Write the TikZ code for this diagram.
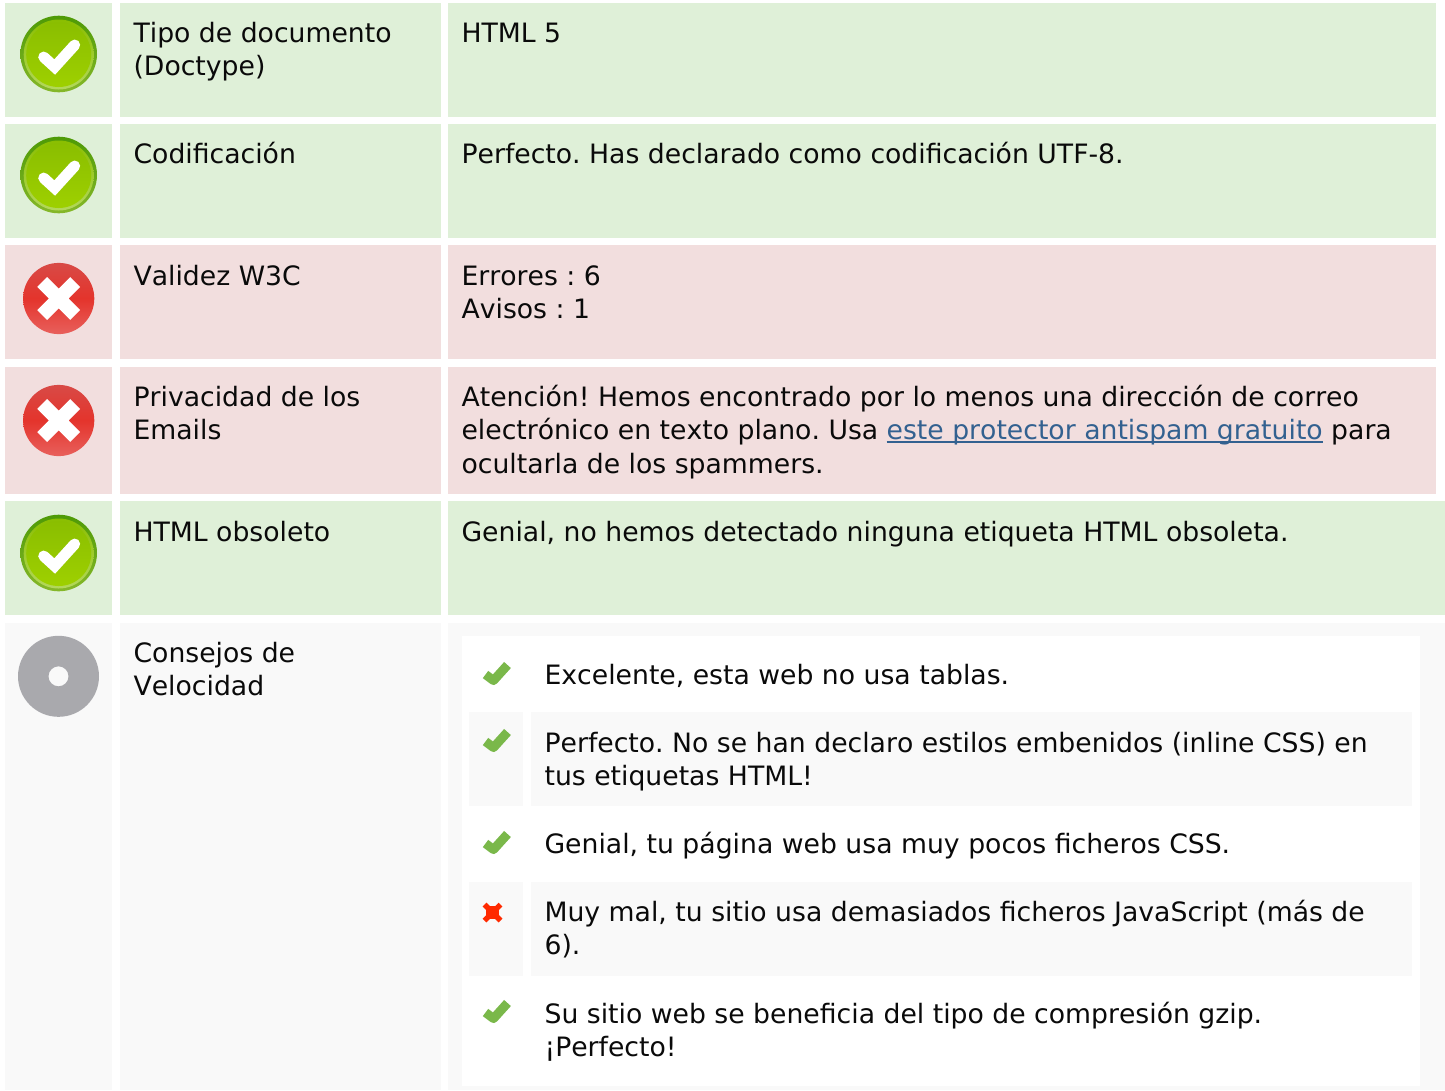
\documentclass[tikz,border=0pt]{standalone}
\usepackage{fontspec}
\setmainfont[Kerning=Off]{DejaVu Sans}
\definecolor{okbg}{HTML}{DFF0D8}
\definecolor{badbg}{HTML}{F2DEDE}
\definecolor{panelbg}{HTML}{F9F9F9}
\definecolor{linkblue}{HTML}{336190}
\definecolor{ink}{HTML}{0A0A0A}
\definecolor{smallgreen}{HTML}{7AB84A}
\definecolor{smallred}{HTML}{FF2A00}
\definecolor{rimtop}{HTML}{4E9A06}
\definecolor{rimbot}{HTML}{86B82A}
\definecolor{oktop}{HTML}{8ABE00}
\definecolor{okbot}{HTML}{9ED000}
\definecolor{ringbot}{HTML}{B4D85C}
\definecolor{redtop}{HTML}{D84A46}
\definecolor{redbot}{HTML}{E8605C}
\definecolor{redmid}{HTML}{E4342C}
\definecolor{discgray}{HTML}{A9A9AD}
\tikzset{
  label/.style={anchor=north west,inner sep=0pt,align=left,text=ink,
    font=\fontsize{20}{25.15}\selectfont},
}
\newlength{\linkw}
\newcommand{\linktext}[1]{\settowidth{\linkw}{#1}{\color{linkblue}\rlap{\rule[-2.2pt]{\linkw}{1.3pt}}#1}}
\newcommand{\cellbox}[5]{\fill[#5] (#1,#2) rectangle (#3,#4);}
\newcommand{\txt}[4]{\node[label] (#1) at (#2-0.7,#3-23.4) {\strut #4};}
\newcommand{\okicon}[1]{%
  \begin{scope}[shift={(58.7,#1)}]
    \shade[top color=rimtop,bottom color=rimbot] (0,0) circle (38.3);
    \shade[top color=oktop,bottom color=ringbot] (0,0.5) circle (35);
    \shade[top color=oktop,bottom color=okbot] (0,0.5) circle (32.5);
    \draw[white,line width=8.2,line cap=round,line join=miter] (-15,3) -- (-4,13) -- (16,-9);
  \end{scope}}
\newcommand{\badicon}[1]{%
  \begin{scope}[shift={(58.7,#1)}]
    \shade[top color=redtop,bottom color=redbot,middle color=redmid] (0,0) circle (35.6);
    \draw[white,line width=10.5,line cap=butt] (-16.5,-16.5) -- (16.5,16.5) (-16.5,16.5) -- (16.5,-16.5);
  \end{scope}}
\newcommand{\minicheck}[1]{\draw[smallgreen,line width=6.8,line join=round] (485.5,#1+0.5) -- (493.5,#1+6.5) -- (507.5,#1-9);}
\begin{document}
\frenchspacing
\begin{tikzpicture}[x=0.75pt,y=-0.75pt]
\useasboundingbox (0,0) rectangle (1445,1090);
% rows
\cellbox{5}{3}{112}{117}{okbg}\cellbox{120}{3}{441}{117}{okbg}\cellbox{448}{3}{1436}{117}{okbg}
\cellbox{5}{124}{112}{238}{okbg}\cellbox{120}{124}{441}{238}{okbg}\cellbox{448}{124}{1436}{238}{okbg}
\cellbox{5}{245}{112}{359}{badbg}\cellbox{120}{245}{441}{359}{badbg}\cellbox{448}{245}{1436}{359}{badbg}
\cellbox{5}{367}{112}{494}{badbg}\cellbox{120}{367}{441}{494}{badbg}\cellbox{448}{367}{1436}{494}{badbg}
\cellbox{5}{501}{112}{615}{okbg}\cellbox{120}{501}{441}{615}{okbg}\cellbox{448}{501}{1445}{615}{okbg}
\cellbox{5}{623}{112}{1090}{panelbg}\cellbox{120}{623}{441}{1090}{panelbg}\cellbox{448}{623}{1445}{1090}{panelbg}
% inner panel
\cellbox{462}{636}{1420}{1086}{white}
\cellbox{469}{712}{523}{806}{panelbg}\cellbox{531}{712}{1412}{806}{panelbg}
\cellbox{469}{882}{523}{976}{panelbg}\cellbox{531}{882}{1412}{976}{panelbg}
% icons
\okicon{54}
\okicon{175}
\badicon{298.5}
\badicon{420.5}
\okicon{553}
\fill[discgray,even odd rule] (58.5,676.3) circle (40.5) (58.5,676.3) circle (10);
\minicheck{674}
\minicheck{741}
\minicheck{843}
\minicheck{1012}
\fill[smallred] (486,906) rectangle (499,919);
\draw[smallred,line width=4] (484.5,904.5) -- (500.5,920.5) (484.5,920.5) -- (500.5,904.5);
% left labels
\txt{l1}{134}{42}{Tipo de documento\\(Doctype)}
\txt{l2}{134}{163}{Codificación}
\txt{l3}{134}{285}{Validez W3C}
\txt{l4}{134}{406}{Privacidad de los\\Emails}
\txt{l5}{134}{541}{HTML obsoleto}
\txt{l6}{134}{662}{Consejos de\\Velocidad}
% right labels
\txt{r1}{462}{42}{HTML 5}
\txt{r2}{462}{163}{Perfecto. Has declarado como codificación UTF-8.}
\txt{r3}{462}{285}{Errores : 6\\Avisos : 1}
\txt{r4}{462}{406}{Atención! Hemos encontrado por lo menos una dirección de correo\\electrónico en texto plano. Usa \linktext{este protector antispam gratuito} para\\ocultarla de los spammers.}
\txt{r5}{462}{541}{Genial, no hemos detectado ninguna etiqueta HTML obsoleta.}
% advice list
\txt{a1}{545}{684}{Excelente, esta web no usa tablas.}
\txt{a2}{545}{752}{Perfecto. No se han declaro estilos embenidos (inline CSS) en\\tus etiquetas HTML!}
\txt{a3}{545}{853}{Genial, tu página web usa muy pocos ficheros CSS.}
\txt{a4}{545}{921}{Muy mal, tu sitio usa demasiados ficheros JavaScript (más de\\6).}
\txt{a5}{545}{1023}{Su sitio web se beneficia del tipo de compresión gzip.\\¡Perfecto!}
\end{tikzpicture}
\end{document}
